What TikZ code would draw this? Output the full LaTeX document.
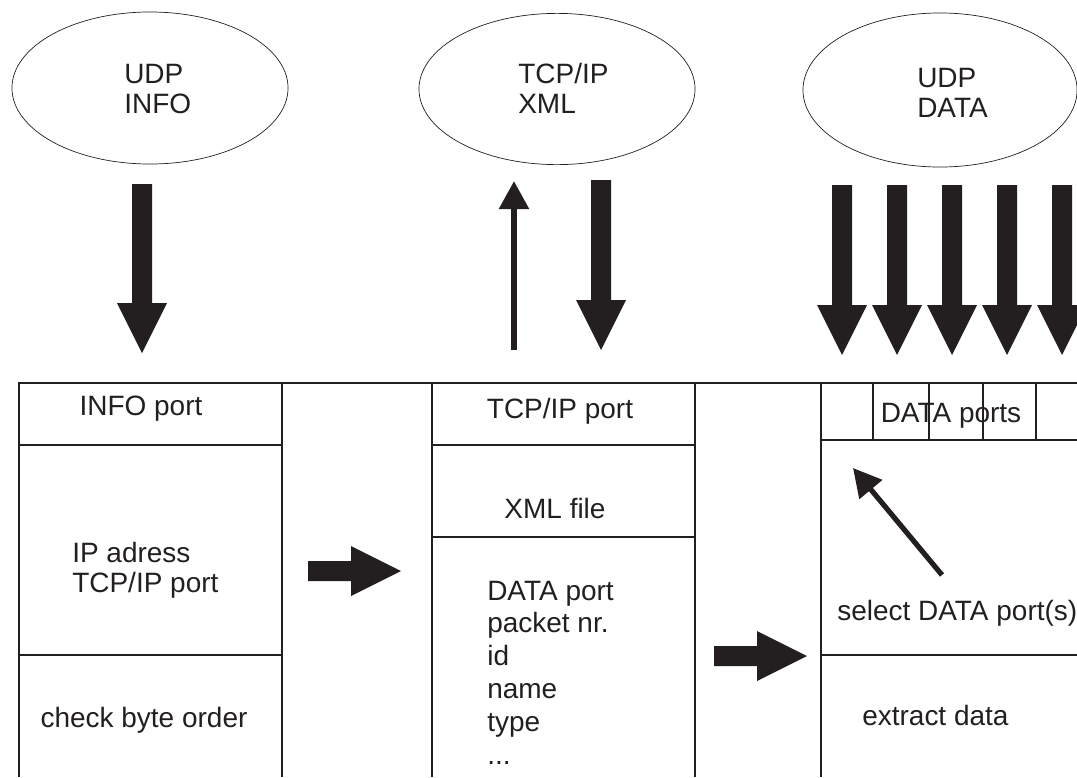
\documentclass[tikz,border=0pt]{standalone}
\usepackage{fontspec}
\setmainfont{Liberation Sans}
\usetikzlibrary{shapes.geometric,arrows.meta}

\definecolor{ink}{HTML}{231F20}

\tikzset{
  txt/.style={text=ink,inner sep=0pt,font=\fontsize{19.9}{21.3}\selectfont},
  udpcloud/.style={ellipse,draw=ink,line width=0.5pt,inner sep=0pt},
  frame/.style={draw=ink,line width=0.8pt},
  thinarrow/.style={ink,line width=0.15cm,-{Triangle[length=0.7cm,width=0.72cm]}},
}

% fat block arrows: centre, tail, start of the head
\newcommand{\fatdown}[3]{%
  \fill[ink] (#1-10,#2) -- (#1+10,#2) -- (#1+10,#3) -- (#1+25,#3) -- (#1,#3+50)
    -- (#1-25,#3) -- (#1-10,#3) -- cycle;}
\newcommand{\fatright}[3]{%
  \fill[ink] (#2,#1-10) -- (#3,#1-10) -- (#3,#1-25) -- (#3+50,#1) -- (#3,#1+25)
    -- (#3,#1+10) -- (#2,#1+10) -- cycle;}

\begin{document}
\begin{tikzpicture}[x=0.025cm,y=-0.025cm]
  \useasboundingbox (0,0) rectangle (1077,777);

  % the three sockets
  \node[udpcloud,minimum width=6.9cm,minimum height=3.8cm] (udpinfo) at (150,88) {};
  \node[udpcloud,minimum width=6.9cm,minimum height=3.78cm] (tcpxml) at (557,89) {};
  \node[udpcloud,minimum width=6.85cm,minimum height=3.85cm] (udpdata) at (940,90) {};
  \node[txt,anchor=base west,align=left] (udpinfotxt) at (124,113) {UDP\\INFO};
  \node[txt,anchor=base west,align=left] (tcpxmltxt) at (518,113) {TCP/IP\\XML};
  \node[txt,anchor=base west,align=left] (udpdatatxt) at (917,117) {UDP\\DATA};

  % columns
  \draw[frame] (19,777) -- (19,383) -- (1077,383);
  \foreach \x in {282,432,695,821}
    \draw[frame] (\x,383) -- (\x,777);
  \draw[frame] (19,445) -- (282,445);
  \draw[frame] (19,655) -- (282,655);
  \draw[frame] (432,445) -- (695,445);
  \draw[frame] (432,537) -- (695,537);
  \draw[frame] (821,440) -- (1077,440);
  \draw[frame] (821,655) -- (1077,655);
  \foreach \x in {873,929,983,1036}
    \draw[frame] (\x,383) -- (\x,440);

  \node[txt,anchor=base] (infoport) at (141,415) {INFO port};
  \node[txt,anchor=base west,align=left] (ipaddr) at (72,592) {IP adress\\TCP/IP port};
  \node[txt,anchor=base] (byteorder) at (144,727) {check byte order};

  \node[txt,anchor=base] (tcpport) at (560,418) {TCP/IP port};
  \node[txt,anchor=base] (xmlfile) at (555,518) {XML file};
  \node[txt,anchor=base west,align=left,font=\fontsize{19.9}{23.3}\selectfont]
    (fields) at (487,764) {DATA port\\packet nr.\\id\\name\\type\\...};

  \node[txt,anchor=base] (dataports) at (951,422) {DATA ports};
  \node[txt,anchor=base west] (select) at (837,620) {select DATA port(s)};
  \node[txt,anchor=base west] (extract) at (862,725) {extract data};

  % flow
  \fatdown{142}{184}{303}
  \fatdown{601}{180}{300}
  \foreach \x in {842,897,952,1007,1062}
    {\fatdown{\x}{185}{305}}
  \fatright{571}{308}{351}
  \fatright{656}{714}{757}

  \coordinate (xmlfoot) at (514,350);
  \coordinate (xmlreq) at (514,181);
  \draw[thinarrow] (xmlfoot) -- (xmlreq);
  \coordinate (selfoot) at (942,575);
  \coordinate (seltip) at (853,468);
  \draw[thinarrow,line width=0.13cm] (selfoot) -- (seltip);
\end{tikzpicture}
\end{document}
